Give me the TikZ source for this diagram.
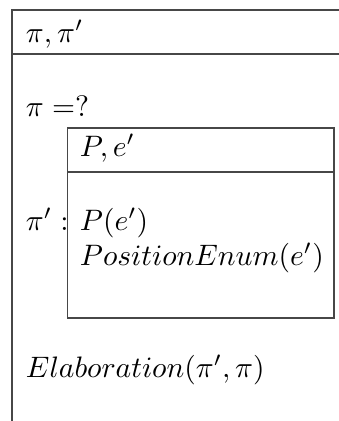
\documentclass[tikz,border=0pt]{standalone}
\begin{document}
\begin{tikzpicture}[x=0.338pt,y=-0.338pt,
  frame/.style={draw=black!72,line width=0.45pt},
  lbl/.style={anchor=base west,inner sep=0pt,outer sep=0pt}]
\useasboundingbox (0,0) rectangle (339,421);
% outer box (open to the right and bottom)
\coordinate (otr) at (345,10);
\coordinate (otl) at (12,10);
\coordinate (obl) at (12,425);
\coordinate (ohl) at (12,54);
\coordinate (ohr) at (345,54);
\draw[frame] (otr) -- (otl) -- (obl);
\draw[frame] (ohl) -- (ohr);
% inner box
\coordinate (itl) at (67.5,128);
\coordinate (ibr) at (334,318);
\coordinate (ihl) at (67.5,172);
\coordinate (ihr) at (334,172);
\draw[frame] (itl) rectangle (ibr);
\draw[frame] (ihl) -- (ihr);
% texts
\node[lbl] (t1) at (26,42) {$\pi, \pi'$};
\node[lbl] (t2) at (26,116.5) {$\pi =?$};
\node[lbl] (t3) at (26,230) {$\pi' :$};
\node[lbl] (t4) at (80,156) {$P, e'$};
\node[lbl] (t5) at (80,230) {$P(e')$};
\node[lbl] (t6) at (80,265) {$PositionEnum(e')$};
\node[lbl] (t7) at (26,377) {$Elaboration(\pi', \pi)$};
\end{tikzpicture}
\end{document}
